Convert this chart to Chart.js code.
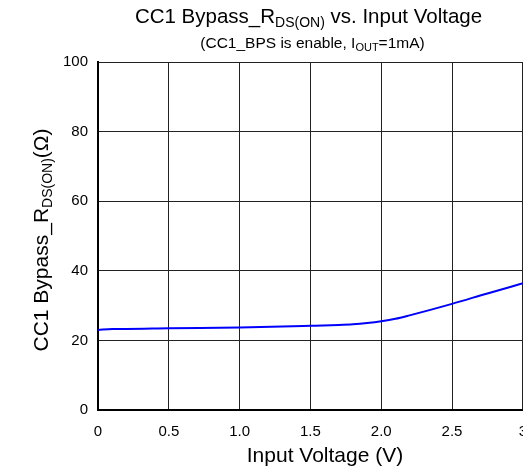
<!DOCTYPE html>
<html>
<head>
<meta charset="utf-8">
<script src="https://cdn.jsdelivr.net/npm/chart.js@4/dist/chart.umd.min.js"></script>
<style>
  html, body { margin: 0; padding: 0; overflow: hidden; background: #fff; }
  #wrap { width: 540px; height: 472px; }
</style>
</head>
<body>
<div id="wrap"><canvas id="rdsChart" width="540" height="472"></canvas></div>
<script>
// values
const voltage = [0, 0.1, 0.2, 0.5, 1.0, 1.5, 1.7, 1.8, 1.9, 2.0, 2.1, 2.2, 2.5, 2.75, 3.0];
const rdsOn = [23.0, 23.3, 23.3, 23.5, 23.7, 24.2, 24.45, 24.65, 25.0, 25.5, 26.2, 27.2, 30.5, 33.5, 36.4];
const xTickLabels = ["0", "0.5", "1.0", "1.5", "2.0", "2.5", "3"];
const yTickLabels = ["0", "20", "40", "60", "80", "100"];

const FONT = "'Liberation Sans', Arial, sans-serif";

// draw text made of parts, some of them subscript
function partsWidth(ctx, parts) {
  let w = 0;
  parts.forEach(p => {
    ctx.font = p.size + "px " + FONT;
    w += ctx.measureText(p.text).width;
  });
  return w;
}
function drawParts(ctx, parts, cx, baseY) {
  let x = cx - partsWidth(ctx, parts) / 2;
  ctx.textAlign = "left";
  ctx.textBaseline = "alphabetic";
  parts.forEach(p => {
    ctx.font = p.size + "px " + FONT;
    ctx.fillText(p.text, x, baseY + (p.dy || 0));
    x += ctx.measureText(p.text).width;
  });
}

const textPlugin = {
  id: "texts",
  afterDraw(chart) {
    const ctx = chart.ctx;
    ctx.save();
    ctx.fillStyle = "#000";
    drawParts(ctx, [
      { text: "CC1 Bypass_R", size: 20.5 },
      { text: "DS(ON)", size: 14, dy: 4 },
      { text: " vs. Input Voltage", size: 20.5 }
    ], 308.5, 23);
    drawParts(ctx, [
      { text: "(CC1_BPS is enable, I", size: 15.5 },
      { text: "OUT", size: 11, dy: 3 },
      { text: "=1mA)", size: 15.5 }
    ], 312.5, 48);
    drawParts(ctx, [{ text: "Input Voltage (V)", size: 21 }], 325, 462);

    ctx.translate(48, 240);
    ctx.rotate(-Math.PI / 2);
    drawParts(ctx, [
      { text: "CC1 Bypass_R", size: 21 },
      { text: "DS(ON)", size: 14, dy: 4 },
      { text: "(\u03A9)", size: 21 }
    ], 0, 0);
    ctx.restore();
  }
};

const ctx = document.getElementById("rdsChart").getContext("2d");
new Chart(ctx, {
  type: "scatter",
  data: {
    datasets: [{
      data: voltage.map((v, i) => ({ x: v, y: rdsOn[i] })),
      showLine: true,
      borderColor: "#0000ff",
      borderWidth: 2,
      pointRadius: 0,
      cubicInterpolationMode: "monotone"
    }]
  },
  options: {
    responsive: false,
    animation: false,
    layout: { padding: { top: 62, right: 6, left: 0, bottom: 0 } },
    plugins: {
      legend: { display: false },
      tooltip: { enabled: false }
    },
    scales: {
      x: {
        type: "linear",
        min: 0,
        max: 3,
        afterFit: s => { s.height = 62; },
        afterBuildTicks: s => {
          s.ticks = xTickLabels.map((t, i) => ({ value: i * 0.5 }));
        },
        ticks: {
          callback: (v, i) => xTickLabels[i],
          color: "#000",
          font: { family: FONT, size: 15 },
          padding: 13,
          maxRotation: 0
        },
        grid: { color: "#222", lineWidth: 1, drawTicks: false },
        border: { color: "#000", width: 2 }
      },
      y: {
        min: 0,
        max: 100,
        afterFit: s => { s.width = 98; },
        afterBuildTicks: s => {
          s.ticks = yTickLabels.map(t => ({ value: Number(t) }));
        },
        ticks: {
          callback: (v, i) => yTickLabels[i],
          color: "#000",
          font: { family: FONT, size: 15 },
          padding: 10
        },
        grid: { color: "#222", lineWidth: 1, drawTicks: false },
        border: { color: "#000", width: 2 }
      }
    }
  },
  plugins: [textPlugin]
});
</script>
</body>
</html>
